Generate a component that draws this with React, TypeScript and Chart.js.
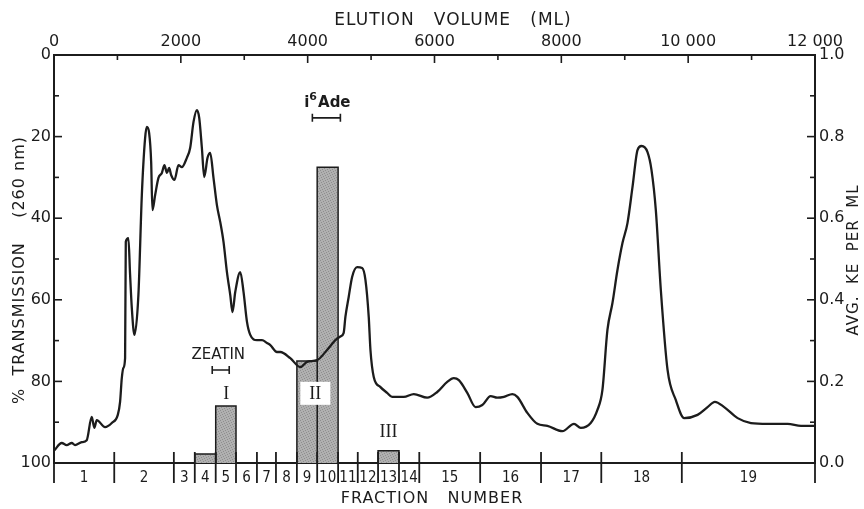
import React, { useEffect, useRef } from 'react';
import { Chart, registerables } from 'chart.js';

Chart.register(...registerables);

// ---- Data ----
const elutionVolume = [
  0, 122, 200, 280, 332, 437, 516, 595, 636, 674, 805, 911, 1006, 1042, 1069, 1094, 1121, 1132, 1173, 1200,
  1227, 1268, 1331, 1385, 1437, 1464, 1500, 1532, 1552, 1595, 1647, 1701, 1742, 1780, 1816, 1847, 1900, 1963,
  2016, 2095, 2147, 2200, 2253, 2290, 2332, 2369, 2421, 2463, 2515, 2569, 2621, 2673, 2727, 2779, 2815, 2858,
  2937, 2989, 3043, 3095, 3201, 3280, 3359, 3411, 3516, 3569, 3726, 3884, 3990, 4148, 4306, 4437, 4516, 4568,
  4595, 4647, 4701, 4780, 4859, 4911, 4963, 4990, 5042, 5148, 5253, 5332, 5515, 5673, 5885, 6043, 6201, 6305,
  6384, 6517, 6648, 6754, 6885, 6990, 7095, 7227, 7306, 7464, 7622, 7780, 8017, 8200, 8306, 8463, 8569, 8648,
  8727, 8806, 8885, 8964, 9043, 9122, 9201, 9264, 9359, 9422, 9490, 9569, 9675, 9806, 9937, 10148, 10306,
  10421, 10568, 10780, 10990, 11254, 11569, 11780, 12000,
];
const transmission = [
  97.0, 95.1, 95.6, 95.1, 95.6, 94.9, 94.4, 88.7, 91.4, 89.5, 91.2, 90.2, 88.2, 85.0, 79.2, 76.7, 74.3, 45.8, 44.9, 53.9,
  62.0, 68.6, 58.8, 34.3, 20.3, 17.6, 19.1, 26.2, 38.0, 34.3, 30.1, 28.9, 27.0, 28.9, 27.7, 29.4, 30.6, 27.0,
  27.5, 25.2, 22.8, 16.4, 13.5, 15.4, 22.8, 29.9, 25.2, 24.0, 30.1, 36.8, 40.9, 45.8, 53.2, 58.8, 63.0, 58.1,
  53.2, 58.1, 65.4, 68.6, 69.9, 69.9, 70.6, 71.1, 72.8, 72.8, 74.3, 76.5, 75.2, 74.8, 72.3, 69.9, 69.0, 68.1,
  64.2, 59.3, 54.4, 52.0, 52.2, 55.1, 64.2, 72.3, 78.9, 81.4, 82.8, 83.8, 83.8, 83.1, 84.0, 82.6, 80.1, 79.2,
  79.7, 82.8, 86.3, 85.8, 83.6, 84.0, 83.8, 83.1, 83.8, 87.7, 90.4, 90.9, 92.2, 90.4, 91.4, 90.2, 87.0, 82.1,
  67.4, 60.8, 52.7, 46.1, 41.2, 32.4, 23.3, 22.3, 23.8, 28.2, 38.0, 57.6, 77.2, 84.6, 89.0, 88.2, 86.3,
  85.0, 86.3, 89.0, 90.2, 90.4, 90.4, 90.9, 90.9,
];

const fractionBoundaries = [0, 950, 1890, 2220, 2550, 2870, 3200, 3500, 3830, 4150, 4480, 4790, 5110, 5440, 5760, 6720, 7680, 8630, 9900, 12000];
const fractionLabels = ['1', '2', '3', '4', '5', '6', '7', '8', '9', '10', '11', '12', '13', '14', '15', '16', '17', '18', '19'];

const activeFractions = [4, 5, 9, 10, 13];
const kePerMl = [0.022, 0.14, 0.25, 0.725, 0.03];

const topTickLabels: Record<number, string> = { 0: '0', 2000: '2000', 4000: '4000', 6000: '6000', 8000: '8000', 10000: '10 000', 12000: '12 000' };

const titleTop = 'ELUTION   VOLUME   (ML)';
const titleBottom = 'FRACTION   NUMBER';
const titleLeft = '%  TRANSMISSION    (260 nm)';
const titleRight = 'AVG.  KE  PER  ML';

// annotation texts (volume, % transmission)
const textNotes = [
  { text: 'ZEATIN', v: 2590, t: 73.6, serif: false },
  { text: 'I', v: 2716, t: 82.8, serif: true },
  { text: 'III', v: 5274, t: 92.3, serif: true },
];
const brackets = [
  { v0: 2495, v1: 2763, t: 77.2 },
  { v0: 4074, v1: 4516, t: 15.4 },
];
const boxedNote = { text: 'II', v: 4121, t: 82.8 };
const i6AdeNote = { v: 4311, t: 11.8 };

const INK = '#1c1c1c';
const SANS = '"DejaVu Sans", sans-serif';
const COND = '"DejaVu Sans Condensed", "DejaVu Sans", sans-serif';
const SERIF = '"Liberation Serif", "DejaVu Serif", serif';

function makePattern(): CanvasPattern | string {
  const c = document.createElement('canvas');
  c.width = 5; c.height = 5;
  const g = c.getContext('2d');
  if (!g) return '#a8a8a8';
  g.fillStyle = '#b0b0b0'; g.fillRect(0, 0, 5, 5);
  g.fillStyle = '#8e8e8e';
  [[0, 0], [3, 1], [1, 2], [4, 3], [2, 4]].forEach(([x, y]) => g.fillRect(x, y, 1, 1));
  return g.createPattern(c, 'repeat') || '#a8a8a8';
}

const axisPlugin = {
  id: 'inwardAxes',
  afterDraw(chart: any) {
    const ctx = chart.ctx as CanvasRenderingContext2D;
    const { top, bottom, left, right } = chart.chartArea;
    const xs = chart.scales.x, xt = chart.scales.xTop, yl = chart.scales.yT, yr = chart.scales.yKE;
    ctx.save();
    ctx.strokeStyle = INK;
    ctx.lineWidth = 1.6;
    const line = (a: number, b: number, c: number, d: number) => { ctx.beginPath(); ctx.moveTo(a, b); ctx.lineTo(c, d); ctx.stroke(); };
    xt.ticks.forEach((t: any, i: number) => {
      const p = xt.getPixelForTick(i);
      if (p <= left + 1 || p >= right - 1) return;
      line(p, top, p, top + (t.value % 2000 === 0 ? 8 : 5));
    });
    yl.ticks.forEach((t: any, i: number) => {
      const p = yl.getPixelForTick(i);
      if (p <= top + 1 || p >= bottom - 1) return;
      line(left, p, left + (t.value % 20 === 0 ? 8 : 5), p);
    });
    yr.ticks.forEach((t: any, i: number) => {
      const p = yr.getPixelForTick(i);
      if (p <= top + 1 || p >= bottom - 1) return;
      line(right, p, right - (Math.round(t.value * 10) % 2 === 0 ? 8 : 5), p);
    });
    ctx.lineWidth = 1.8;
    fractionBoundaries.forEach((v) => {
      const p = xs.getPixelForValue(v);
      line(p, bottom - 11, p, bottom + 20);
    });

    // axis titles
    ctx.fillStyle = INK;
    ctx.textAlign = 'center';
    ctx.textBaseline = 'middle';
    (ctx as any).letterSpacing = '1px';
    ctx.font = `17px ${SANS}`;
    ctx.fillText(titleTop, 453, 21);
    ctx.font = `16px ${SANS}`;
    ctx.fillText(titleBottom, 432, 499);
    ctx.save();
    ctx.translate(20, 270);
    ctx.rotate(-Math.PI / 2);
    ctx.font = `16px ${SANS}`;
    ctx.fillText(titleLeft, 0, 0);
    ctx.restore();
    ctx.save();
    ctx.translate(854, 260);
    ctx.rotate(-Math.PI / 2);
    ctx.font = `15px ${SANS}`;
    ctx.fillText(titleRight, 0, 0);
    ctx.restore();
    ctx.restore();
  },
};

const notePlugin = {
  id: 'notes',
  afterDatasetsDraw(chart: any) {
    const ctx = chart.ctx as CanvasRenderingContext2D;
    const xs = chart.scales.x, ys = chart.scales.yT;
    const px = (v: number) => xs.getPixelForValue(v);
    const py = (t: number) => ys.getPixelForValue(t);
    ctx.save();
    ctx.fillStyle = INK; ctx.strokeStyle = INK;
    ctx.textAlign = 'center'; ctx.textBaseline = 'middle';
    // boxed II
    ctx.font = `18px ${SERIF}`;
    const bx = px(boxedNote.v), by = py(boxedNote.t);
    ctx.fillStyle = '#ffffff';
    ctx.fillRect(bx - 15, by - 11, 30, 23);
    ctx.fillStyle = INK;
    ctx.fillText(boxedNote.text, bx, by + 1);
    textNotes.forEach((n) => {
      ctx.font = n.serif ? `18px ${SERIF}` : `15px ${SANS}`;
      ctx.fillText(n.text, px(n.v), py(n.t) + (n.serif ? 1 : 0));
    });
    ctx.lineWidth = 1.6;
    brackets.forEach((b) => {
      const x0 = px(b.v0), x1 = px(b.v1), y = py(b.t);
      ctx.beginPath();
      ctx.moveTo(x0, y); ctx.lineTo(x1, y);
      ctx.moveTo(x0, y - 4); ctx.lineTo(x0, y + 4);
      ctx.moveTo(x1, y - 4); ctx.lineTo(x1, y + 4);
      ctx.stroke();
    });
    // i6Ade with superscript
    const big = `bold 15px ${SANS}`, small = `bold 11px ${SANS}`;
    ctx.font = big; const wi = ctx.measureText('i').width; const wa = ctx.measureText('Ade').width;
    ctx.font = small; const w6 = ctx.measureText('6').width;
    const total = wi + w6 + wa + 1;
    let cx = px(i6AdeNote.v) - total / 2;
    const cy = py(i6AdeNote.t);
    ctx.textAlign = 'left';
    ctx.font = big; ctx.fillText('i', cx, cy); cx += wi;
    ctx.font = small; ctx.fillText('6', cx, cy - 6); cx += w6 + 1;
    ctx.font = big; ctx.fillText('Ade', cx, cy);
    ctx.restore();
  },
};

export default function App() {
  const ref = useRef<HTMLCanvasElement | null>(null);
  useEffect(() => {
    document.body.style.margin = '0';
    if (!ref.current) return;
    const pattern = makePattern();
    const centers = fractionLabels.map((_, i) => (fractionBoundaries[i] + fractionBoundaries[i + 1]) / 2);
    const barSets = activeFractions.map((f, i) => ({
      type: 'line' as const,
      data: [
        { x: fractionBoundaries[f - 1], y: 0 },
        { x: fractionBoundaries[f - 1], y: kePerMl[i] },
        { x: fractionBoundaries[f], y: kePerMl[i] },
        { x: fractionBoundaries[f], y: 0 },
      ],
      xAxisID: 'x', yAxisID: 'yKE',
      fill: 'origin',
      backgroundColor: pattern as any,
      borderColor: INK, borderWidth: 1.5,
      pointRadius: 0, tension: 0, order: 2,
    }));
    const chart = new Chart(ref.current, {
      type: 'line',
      data: {
        datasets: [
          {
            data: elutionVolume.map((v, i) => ({ x: v, y: transmission[i] })),
            xAxisID: 'x', yAxisID: 'yT',
            borderColor: INK, borderWidth: 2.3,
            pointRadius: 0, fill: false,
            cubicInterpolationMode: 'monotone',
            order: 0,
          } as any,
          ...barSets,
        ],
      },
      options: {
        responsive: false,
        devicePixelRatio: 1,
        animation: false,
        events: [],
        layout: { padding: 0 },
        plugins: { legend: { display: false }, tooltip: { enabled: false }, title: { display: false } },
        scales: {
          x: {
            type: 'linear', position: 'bottom', min: 0, max: 12000,
            afterBuildTicks: (s: any) => { s.ticks = centers.map((v) => ({ value: v })); },
            afterFit: (s: any) => { s.height = 46; },
            ticks: {
              autoSkip: false, maxRotation: 0, padding: 6, color: INK, font: { family: COND, size: 15 },
              callback: (_v: any, i: number) => fractionLabels[i],
            },
            grid: { display: false, drawTicks: false },
            border: { display: true, color: INK, width: 2 },
            title: { display: false },
          },
          xTop: {
            type: 'linear', position: 'top', min: 0, max: 12000,
            afterFit: (s: any) => { s.height = 55; },
            ticks: {
              stepSize: 1000, autoSkip: false, maxRotation: 0, padding: 4, color: INK, font: { family: SANS, size: 16 },
              callback: (v: any) => topTickLabels[v] ?? '',
            },
            grid: { display: false, drawTicks: false },
            border: { display: true, color: INK, width: 2 },
            title: { display: false },
          },
          yT: {
            type: 'linear', position: 'left', min: 0, max: 100, reverse: true,
            afterFit: (s: any) => { s.width = 54; },
            ticks: {
              stepSize: 10, autoSkip: false, padding: 3, color: INK, font: { family: SANS, size: 16 },
              callback: (v: any) => (v % 20 === 0 ? String(v) : ''),
            },
            grid: { display: false, drawTicks: false },
            border: { display: true, color: INK, width: 2 },
            title: { display: false },
          },
          yKE: {
            type: 'linear', position: 'right', min: 0, max: 1,
            afterFit: (s: any) => { s.width = 49; },
            ticks: {
              stepSize: 0.1, autoSkip: false, padding: 4, color: INK, font: { family: SANS, size: 16 },
              callback: (v: any) => (Math.round(v * 10) % 2 === 0 ? Number(v).toFixed(1) : ''),
            },
            grid: { display: false, drawTicks: false },
            border: { display: true, color: INK, width: 2 },
            title: { display: false },
          },
        },
      } as any,
      plugins: [axisPlugin, notePlugin],
    });
    return () => chart.destroy();
  }, []);
  return (
    <div style={{ width: 864, height: 509, background: '#ffffff' }}>
      <canvas ref={ref} width={864} height={509} style={{ display: 'block' }} />
    </div>
  );
}
